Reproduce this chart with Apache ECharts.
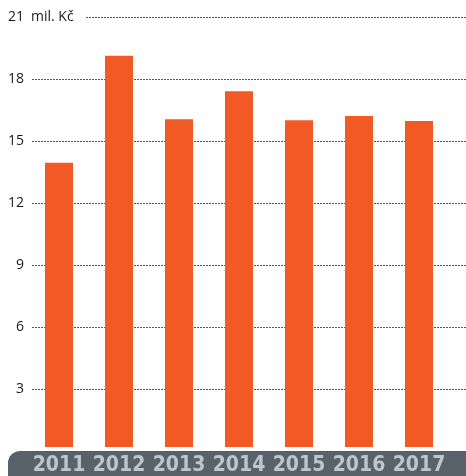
<!DOCTYPE html>
<html>
<head>
<meta charset="utf-8">
<script src="https://cdn.jsdelivr.net/npm/echarts@6/dist/echarts.min.js"></script>
<style>
html,body{margin:0;padding:0;background:#fff;}
#c{width:466px;height:476px;}
</style>
</head>
<body>
<div id="c"></div>
<script>
const categories = ['2011','2012','2013','2014','2015','2016','2017'];
const values = [13.88, 19.11, 16.01, 17.37, 15.96, 16.16, 15.92];
const yTicks = [0, 3, 6, 9, 12, 15, 18, 21];
const unitLabel = 'mil. Kč';

const chart = echarts.init(document.getElementById('c'), null, {renderer: 'canvas'});
chart.setOption({
  animation: false,
  grid: [
    {left: 29, right: 17, top: 17, bottom: 25},
    {left: 32, right: 0, top: 17, bottom: 25}
  ],
  xAxis: [
    {
      gridIndex: 0, type: 'category', data: categories, z: 10,
      axisLine: {show: false}, axisTick: {show: false},
      axisLabel: {
        interval: 0, hideOverlap: false,
        margin: 8, color: '#bcc6cb', fontSize: 21, fontWeight: 'bold',
        fontFamily: '"DejaVu Sans Condensed", sans-serif'
      }
    },
    {gridIndex: 1, type: 'value', show: false, min: 0, max: 1}
  ],
  yAxis: [
    {gridIndex: 0, type: 'value', min: yTicks[0], max: yTicks[yTicks.length-1], interval: 3, show: false},
    {
      gridIndex: 1, type: 'value', min: yTicks[0], max: yTicks[yTicks.length-1], interval: 3,
      axisLine: {show: false}, axisTick: {show: false},
      splitLine: {show: true, lineStyle: {color: '#555', type: [2, 1], width: 1}},
      axisLabel: {
        margin: 8, color: '#1a1a1a', fontSize: 14,
        fontFamily: '"Open Sans", sans-serif',
        formatter: v => (v === 0 ? '' : String(v))
      }
    }
  ],
  series: [{
    type: 'bar', xAxisIndex: 0, yAxisIndex: 0,
    data: values, barWidth: 28,
    itemStyle: {color: '#f15a25'}
  }],
  graphic: [
    {type: 'rect', z: -10, shape: {x: 8, y: 451, width: 480, height: 50, r: 12}, style: {fill: '#57626a'}},
    {type: 'rect', z: 5, shape: {x: 27, y: 12, width: 58, height: 10}, style: {fill: '#fff'}},
    {type: 'text', z: 6, x: 31, y: 17, style: {text: unitLabel, fill: '#1a1a1a', fontSize: 14, fontFamily: '"Open Sans", sans-serif', verticalAlign: 'middle', align: 'left'}}
  ]
});
</script>
</body>
</html>
